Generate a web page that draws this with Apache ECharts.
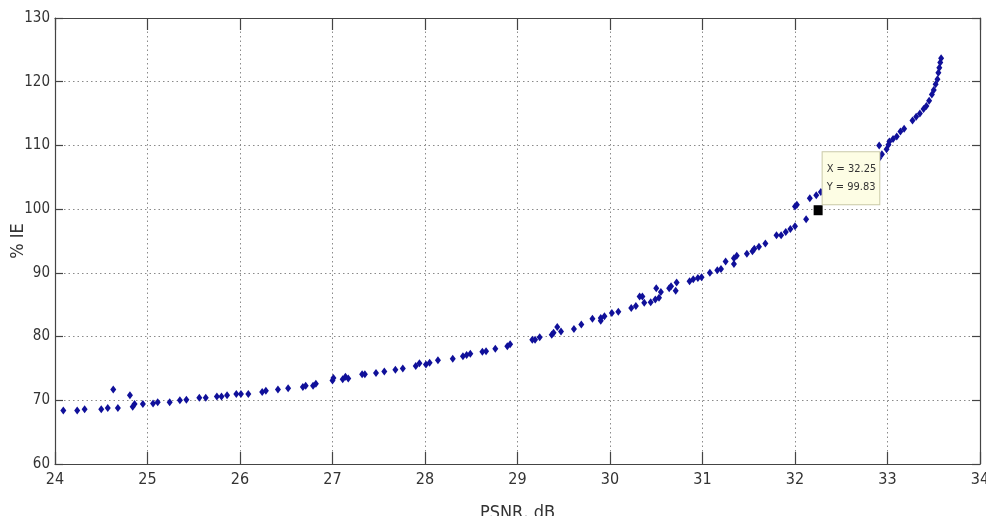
<!DOCTYPE html>
<html>
<head>
    <meta charset="utf-8">
    <title>PSNR vs % IE</title>
    <script src="https://cdn.jsdelivr.net/npm/echarts@6/dist/echarts.min.js"></script>
    <style>
        html, body { margin: 0; padding: 0; background: #fff; }
        #main { width: 986px; height: 516px; }
    </style>
</head>
<body>
<div id="main"></div>
<script>
    // data
    var psnr = [24.09, 24.24, 24.32, 24.50, 24.57, 24.63, 24.68, 24.81, 24.84, 24.86,
        24.95, 25.06, 25.11, 25.24, 25.35, 25.42, 25.56, 25.63, 25.75, 25.80,
        25.86, 25.96, 26.01, 26.09, 26.24, 26.28, 26.41, 26.52, 26.68, 26.71,
        26.79, 26.82, 27.00, 27.01, 27.11, 27.14, 27.17, 27.32, 27.35, 27.47,
        27.56, 27.68, 27.76, 27.90, 27.94, 28.01, 28.05, 28.14, 28.30, 28.41,
        28.45, 28.49, 28.62, 28.66, 28.76, 28.89, 28.92, 29.16, 29.19, 29.24,
        29.37, 29.39, 29.43, 29.47, 29.61, 29.69, 29.81, 29.90, 29.90, 29.94,
        30.02, 30.09, 30.23, 30.28, 30.32, 30.35, 30.37, 30.44, 30.49, 30.50,
        30.53, 30.55, 30.64, 30.66, 30.71, 30.72, 30.86, 30.90, 30.95, 30.99,
        31.08, 31.16, 31.20, 31.25, 31.34, 31.34, 31.37, 31.48, 31.54, 31.56,
        31.61, 31.68, 31.80, 31.85, 31.90, 31.95, 32.00, 32.00, 32.02, 32.12,
        32.16, 32.23, 32.25, 32.28, 32.91, 32.91, 32.94, 32.99, 33.01, 33.02,
        33.06, 33.10, 33.14, 33.18, 33.27, 33.31, 33.35, 33.39, 33.42, 33.45,
        33.48, 33.50, 33.52, 33.54, 33.55, 33.56, 33.57, 33.58];
    var ie = [68.4, 68.4, 68.6, 68.6, 68.8, 71.7, 68.8, 70.8, 69.0, 69.4,
        69.4, 69.5, 69.7, 69.7, 70.0, 70.1, 70.4, 70.4, 70.6, 70.6,
        70.8, 71.0, 71.0, 71.0, 71.3, 71.5, 71.7, 71.9, 72.1, 72.3,
        72.3, 72.6, 73.1, 73.5, 73.3, 73.7, 73.4, 74.1, 74.1, 74.3,
        74.5, 74.8, 75.0, 75.4, 75.8, 75.6, 75.9, 76.3, 76.5, 76.9,
        77.1, 77.3, 77.6, 77.7, 78.1, 78.5, 78.8, 79.5, 79.5, 79.9,
        80.3, 80.6, 81.5, 80.8, 81.2, 81.9, 82.8, 82.5, 82.9, 83.2,
        83.7, 83.9, 84.5, 84.8, 86.3, 86.3, 85.3, 85.4, 85.8, 87.6,
        86.1, 87.0, 87.6, 87.9, 87.2, 88.5, 88.7, 89.0, 89.2, 89.3,
        90.0, 90.4, 90.6, 91.8, 91.4, 92.3, 92.7, 93.0, 93.4, 93.8,
        94.1, 94.6, 95.9, 95.9, 96.4, 96.9, 97.3, 100.4, 100.7, 98.4,
        101.7, 102.2, 99.83, 102.7, 110.0, 108.0, 108.6, 109.4, 110.1, 110.6,
        111.0, 111.4, 112.2, 112.6, 113.9, 114.5, 115.0, 115.7, 116.2, 117.0,
        118.0, 118.7, 119.6, 120.4, 121.4, 122.2, 123.0, 123.7];
    var tipPoint = [32.25, 99.83];

    var points = psnr.map(function (x, i) { return [x, ie[i]]; });

    var font = '"Liberation Sans Narrow", "DejaVu Sans Condensed", sans-serif';
    var axisColor = '#444';
    var gridLine = { show: true, lineStyle: { color: '#8a8a8a', width: 1, type: [1.5, 3] } };

    // box around the plot: bottom/left axes carry the labels, top/right only ticks
    function xAx(pos, main) {
        return {
            type: 'value', position: pos, min: 24, max: 34, interval: 1,
            axisLine: { show: true, onZero: false, lineStyle: { color: axisColor, width: 1.2 } },
            axisTick: { show: true, inside: true, length: 12, lineStyle: { color: axisColor, width: 1.2 } },
            axisLabel: { show: main, color: '#333', fontFamily: font, fontSize: 16, margin: 8 },
            splitLine: main ? gridLine : { show: false },
            name: main ? 'PSNR, dB' : '',
            nameLocation: 'middle', nameGap: 40, nameMoveOverlap: false,
            nameTextStyle: { color: '#333', fontFamily: font, fontSize: 18 }
        };
    }
    function yAx(pos, main) {
        return {
            type: 'value', position: pos, min: 60, max: 130, interval: 10,
            axisLine: { show: true, onZero: false, lineStyle: { color: axisColor, width: 1.2 } },
            axisTick: { show: true, inside: true, length: 8, lineStyle: { color: axisColor, width: 1.2 } },
            axisLabel: { show: main, color: '#333', fontFamily: font, fontSize: 15, margin: 5 },
            splitLine: main ? gridLine : { show: false },
            name: main ? '% IE' : '',
            nameLocation: 'middle', nameGap: 28, nameMoveOverlap: false,
            nameTextStyle: { color: '#333', fontFamily: font, fontSize: 18 }
        };
    }

    var myChart = echarts.init(document.getElementById('main'));
    var option = {
        animation: false,
        backgroundColor: '#fff',
        grid: { left: 55, right: 6, top: 18, bottom: 52, containLabel: false, outerBoundsMode: 'none' },
        xAxis: [xAx('bottom', true), xAx('top', false)],
        yAxis: [yAx('left', true), yAx('right', false)],
        series: [{
            type: 'scatter',
            symbol: 'diamond',
            symbolSize: [6, 8],
            itemStyle: { color: '#10109a', opacity: 1 },
            data: points
        }, {
            // data tip
            type: 'scatter',
            symbol: 'rect',
            symbolSize: [9, 10],
            itemStyle: { color: '#000', opacity: 1 },
            data: [tipPoint],
            label: {
                show: true,
                position: [9, -1],
                align: 'left',
                verticalAlign: 'bottom',
                formatter: function (p) {
                    return 'X = ' + p.value[0].toFixed(2) + '\nY = ' + p.value[1].toFixed(2);
                },
                fontFamily: font,
                fontSize: 11,
                lineHeight: 18,
                color: '#333',
                backgroundColor: '#fdfde4',
                borderColor: '#c9c9a8',
                borderWidth: 1,
                padding: [8, 3, 8, 4]
            },
            z: 5
        }]
    };
    myChart.setOption(option);
</script>
</body>
</html>
